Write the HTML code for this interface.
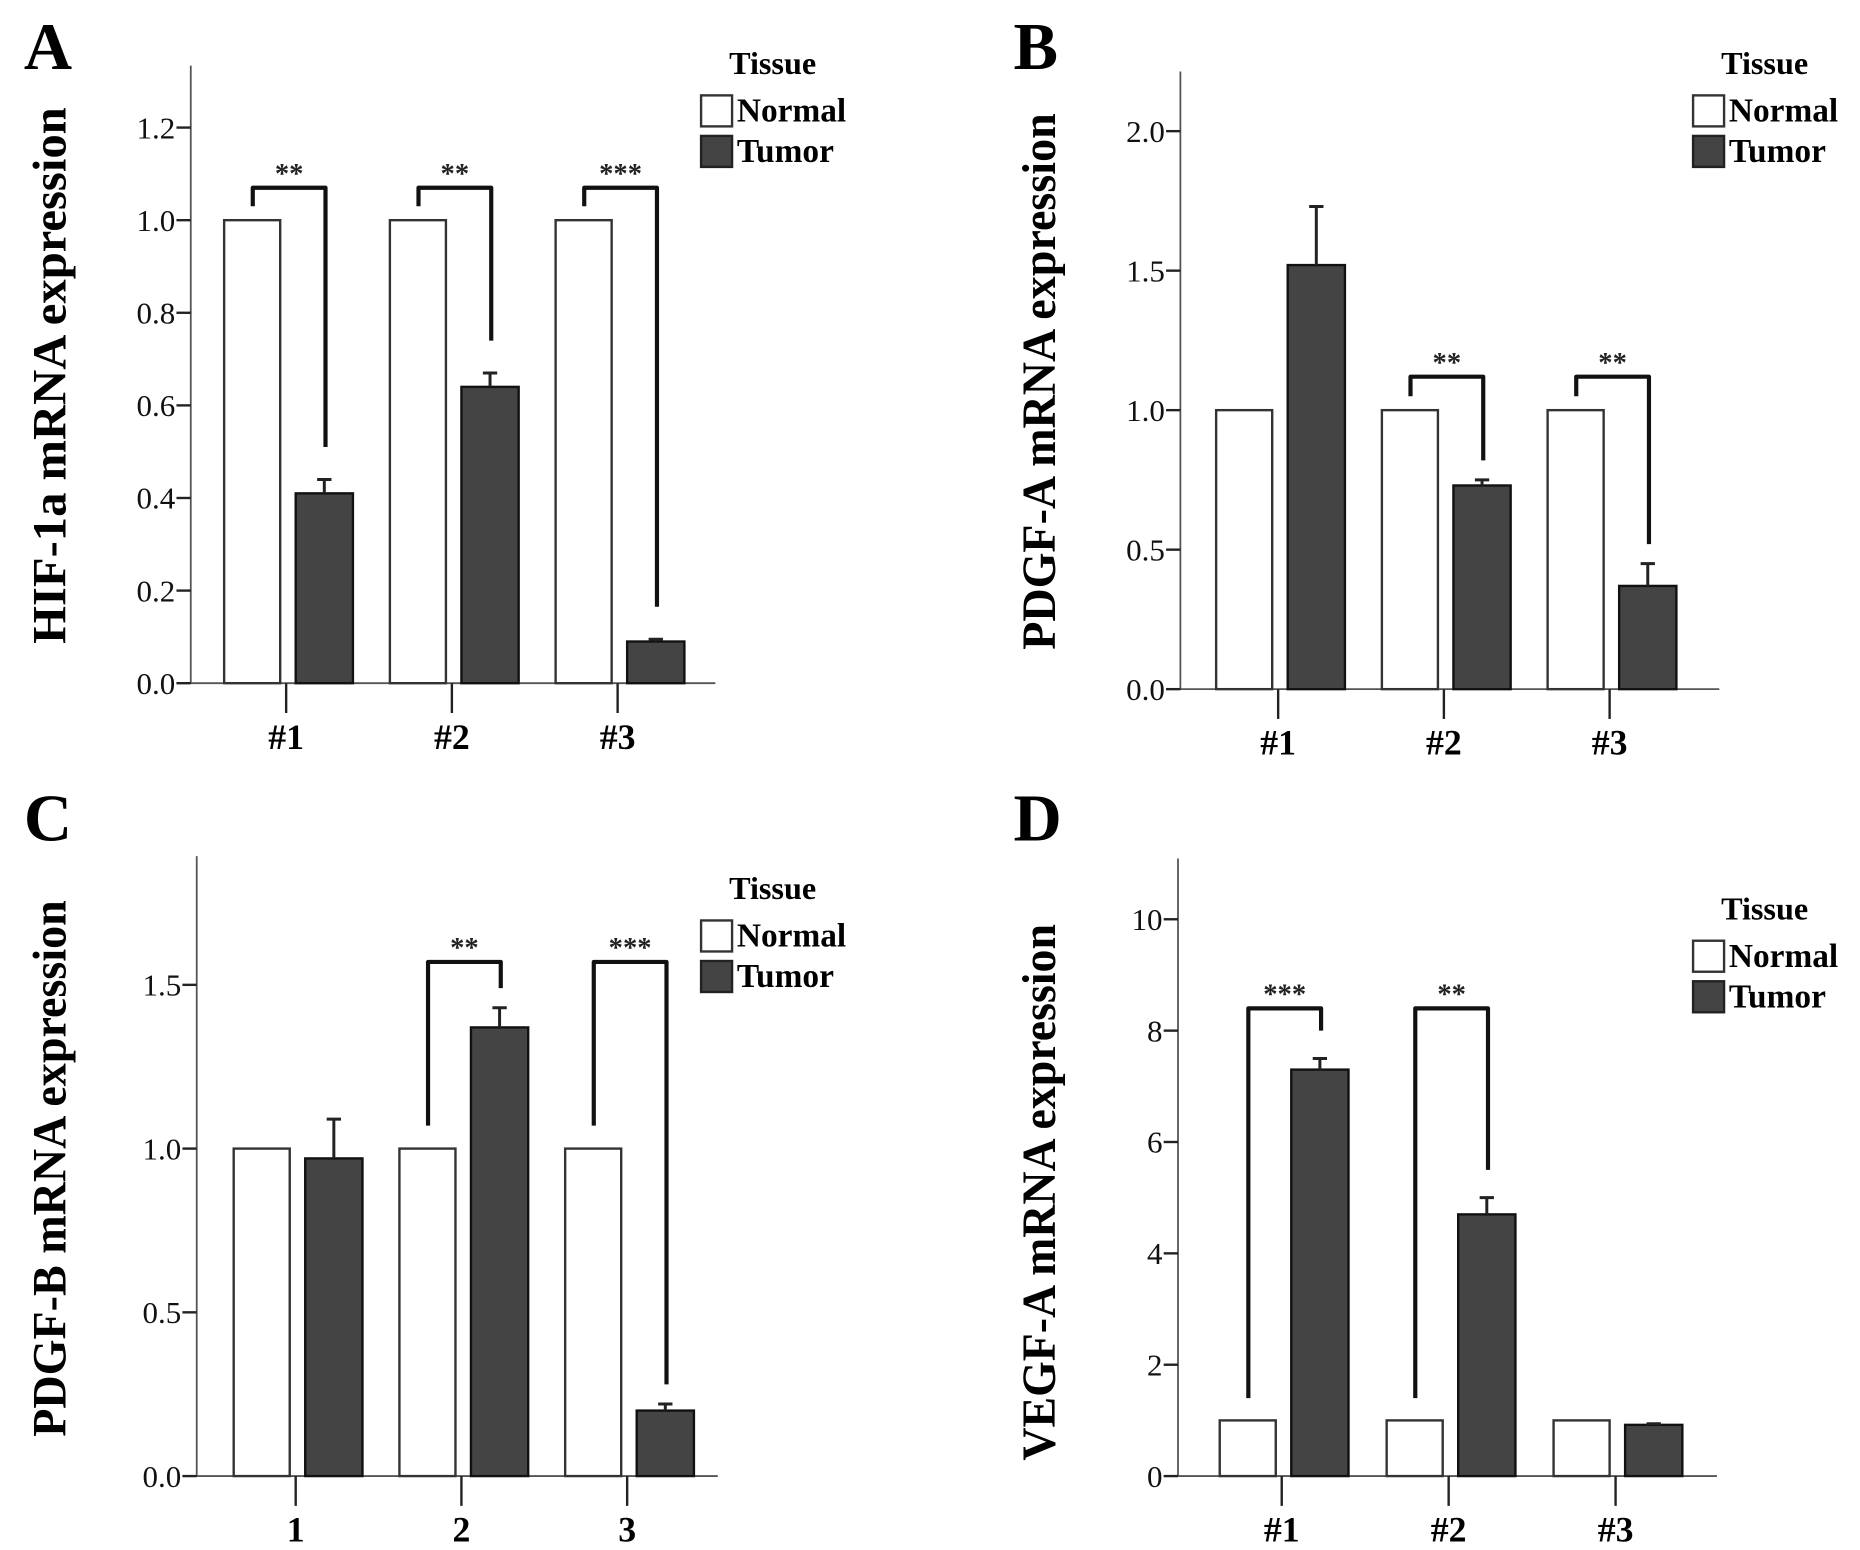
<!DOCTYPE html>
<html><head><meta charset="utf-8"><style>
html,body{margin:0;padding:0;background:#fff;}
svg{display:block;}
text{font-family:"Liberation Serif",serif;}
</style></head><body>
<svg id="fig" width="1860" height="1550" viewBox="0 0 1560 1300" xmlns="http://www.w3.org/2000/svg">
<rect x="0" y="0" width="1560" height="1300" fill="#fff"/>
</svg>
<script>
// ---- data ----
const categoriesA = ["#1","#2","#3"];
const normalA = [1,1,1];
const tumorA = [0.41,0.64,0.09];
const tumorErrA = [0.44,0.67,0.095];
const starsA = ["**","**","***"];
const ticksA = [0,0.2,0.4,0.6,0.8,1.0,1.2];

const categoriesB = ["#1","#2","#3"];
const normalB = [1,1,1];
const tumorB = [1.52,0.73,0.37];
const tumorErrB = [1.73,0.75,0.45];
const starsB = ["","**","**"];
const ticksB = [0,0.5,1.0,1.5,2.0];

const categoriesC = ["1","2","3"];
const normalC = [1,1,1];
const tumorC = [0.97,1.37,0.20];
const tumorErrC = [1.09,1.43,0.22];
const starsC = ["","**","***"];
const ticksC = [0,0.5,1.0,1.5];

const categoriesD = ["#1","#2","#3"];
const normalD = [1,1,1];
const tumorD = [7.3,4.7,0.92];
const tumorErrD = [7.5,5.0,0.94];
const starsD = ["***","**",""];
const ticksD = [0,2,4,6,8,10];

// ---- layout (pixels, not data) ----
const NS="http://www.w3.org/2000/svg";
const svg=document.getElementById('fig');
function mk(tag,attrs,parent){const e=document.createElementNS(NS,tag);for(const k in attrs)e.setAttribute(k,attrs[k]);(parent||svg).appendChild(e);return e;}

const panels=[
 {id:'a',letter:'A',lx:20,ly:58,ylabel:'HIF-1a mRNA expression',ylx:42,yly:315,axisX:160,y0:573,yTopPx:107,yTopV:1.2,axisTop:55,xEnd:600,tick0:240,step:139,legX:588,legY:53,catY:628,dec:1,
  cats:categoriesA,normal:normalA,tumor:tumorA,err:tumorErrA,stars:starsA,ticks:ticksA,brTop:1.07,brL:1.03,brOff:0.07},
 {id:'b',letter:'B',lx:850,ly:58,ylabel:'PDGF-A mRNA expression',ylx:872,yly:320,axisX:990,y0:578,yTopPx:110,yTopV:2.0,axisTop:60,xEnd:1442,tick0:1072,step:139,legX:1420,legY:53,catY:633,dec:1,
  cats:categoriesB,normal:normalB,tumor:tumorB,err:tumorErrB,stars:starsB,ticks:ticksB,brTop:1.12,brL:1.05,brOff:0.07},
 {id:'c',letter:'C',lx:20,ly:705,ylabel:'PDGF-B mRNA expression',ylx:42,yly:980,axisX:165,y0:1238,yTopPx:826,yTopV:1.5,axisTop:718,xEnd:602,tick0:248,step:139,legX:588,legY:745,catY:1293,dec:1,
  cats:categoriesC,normal:normalC,tumor:tumorC,err:tumorErrC,stars:starsC,ticks:ticksC,brTop:1.57,brL:1.07,brOff:0.06},
 {id:'d',letter:'D',lx:850,ly:705,ylabel:'VEGF-A mRNA expression',ylx:872,yly:1000,axisX:988,y0:1238,yTopPx:771,yTopV:10,axisTop:720,xEnd:1440,tick0:1075,step:140,legX:1420,legY:762,catY:1293,dec:0,
  cats:categoriesD,normal:normalD,tumor:tumorD,err:tumorErrD,stars:starsD,ticks:ticksD,brTop:8.4,brL:1.4,brOff:0.5}
];

panels.forEach(p=>{
  const g=mk('g',{});
  
  
  const y=v=>p.y0-v*(p.y0-p.yTopPx)/p.yTopV;
  const cx=i=>p.tick0+i*p.step;

  const L=mk('text',{x:p.lx,y:p.ly,'font-size':56,'font-weight':'bold'},g);L.textContent=p.letter;
  
  

  const yl=mk('text',{x:0,y:0,'font-size':40,'font-weight':'bold','text-anchor':'middle',transform:`translate(${p.ylx+13},${p.yly}) rotate(-90)`,textLength:450,lengthAdjust:'spacingAndGlyphs'},g);
  yl.textContent=p.ylabel;
  
  

  const ya=mk('line',{x1:p.axisX,y1:p.axisTop,x2:p.axisX,y2:p.y0,stroke:'#555','stroke-width':1.5},g);
  
  
  const xa=mk('line',{x1:p.axisX-12,y1:p.y0,x2:p.xEnd,y2:p.y0,stroke:'#555','stroke-width':1.5},g);
  
  

  p.ticks.forEach(t=>{
    const tl=mk('line',{x1:p.axisX-12,y1:y(t),x2:p.axisX,y2:y(t),stroke:'#222','stroke-width':2},g);
    
    
    const tt=mk('text',{x:p.axisX-13,y:y(t)+9,'font-size':26,'text-anchor':'end',fill:'#111'},g);
    tt.textContent=t.toFixed(p.dec);
    
    
  });

  p.cats.forEach((c,i)=>{
    const x=cx(i);
    const ct=mk('line',{x1:x,y1:p.y0,x2:x,y2:p.y0+25,stroke:'#222','stroke-width':2},g);
    
    
    const cl=mk('text',{x:x,y:p.catY,'font-size':30,'font-weight':'bold','text-anchor':'middle'},g);
    cl.textContent=c;
    
    

    const nb=mk('rect',{x:x-52,y:y(p.normal[i]),width:47,height:p.y0-y(p.normal[i]),fill:'#fff',stroke:'#333','stroke-width':2},g);
    
    
    const tb=mk('rect',{x:x+8,y:y(p.tumor[i]),width:48,height:p.y0-y(p.tumor[i]),fill:'#444',stroke:'#111','stroke-width':2},g);
    
    
    const ex=x+32;
    const el=mk('path',{d:`M${ex},${y(p.tumor[i])} V${y(p.err[i])} M${ex-6},${y(p.err[i])} H${ex+6}`,stroke:'#222','stroke-width':2.5,fill:'none'},g);
    
    

    if(p.stars[i]){
      const lx=x-28, rx=x+33;
      const yt=y(p.brTop);
      const br=mk('path',{d:`M${lx},${y(p.brL)} V${yt} H${rx} V${y(p.err[i]+p.brOff)}`,stroke:'#111','stroke-width':3.5,fill:'none','stroke-linejoin':'round'},g);
      
      
      const st=mk('text',{x:(lx+rx)/2,y:yt-4,'font-size':24,'font-weight':'bold','text-anchor':'middle',fill:'#222'},g);
      st.textContent=p.stars[i];
      
      
    }
  });

  const lg=mk('g',{},g);
  
  
  const lt=mk('text',{x:p.legX+60,y:p.legY+9,'font-size':27,'font-weight':'bold','text-anchor':'middle'},lg);
  lt.textContent='Tissue';
  
  
  const b1=mk('rect',{x:p.legX,y:p.legY+27,width:26,height:26,fill:'#fff',stroke:'#333','stroke-width':2},lg);
  
  
  const t1=mk('text',{x:p.legX+30,y:p.legY+49,'font-size':28,'font-weight':'bold'},lg);
  t1.textContent='Normal';
  
  
  const b2=mk('rect',{x:p.legX,y:p.legY+61,width:26,height:26,fill:'#444',stroke:'#222','stroke-width':2},lg);
  
  
  const t2=mk('text',{x:p.legX+30,y:p.legY+83,'font-size':28,'font-weight':'bold'},lg);
  t2.textContent='Tumor';
  
  
});
</script>
</body></html>
